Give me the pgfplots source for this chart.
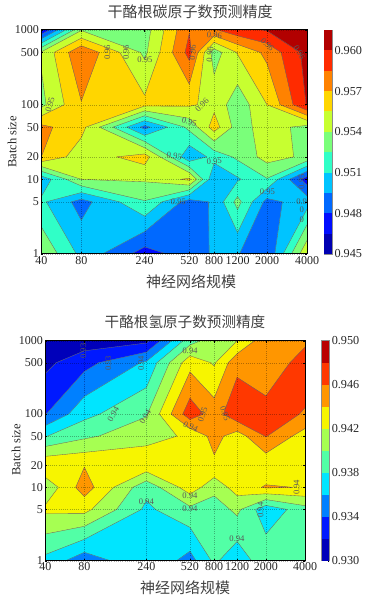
\documentclass[border=0pt]{standalone}
\usepackage{fontspec}
\usepackage{pgfplots}
\pgfplotsset{compat=1.18}
\setmainfont{Liberation Serif}
\newfontfamily\cjk{Noto Sans CJK SC}

% band colours (jet sampled at the band centres)
\definecolor{A0}{rgb}{0,0,.70}\definecolor{A1}{rgb}{0,.05,1}\definecolor{A2}{rgb}{0,.41,1}
\definecolor{A3}{rgb}{0,.77,1}\definecolor{A4}{rgb}{.19,1,.78}\definecolor{A5}{rgb}{.48,1,.48}
\definecolor{A6}{rgb}{.78,1,.19}\definecolor{A7}{rgb}{1,.84,0}\definecolor{A8}{rgb}{1,.51,0}
\definecolor{A9}{rgb}{1,.17,0}\definecolor{A10}{rgb}{.70,0,0}
\definecolor{B0}{rgb}{0,0,.73}\definecolor{B1}{rgb}{0,.1,1}\definecolor{B2}{rgb}{0,.5,1}
\definecolor{B3}{rgb}{0,.9,1}\definecolor{B4}{rgb}{.32,1,.65}\definecolor{B5}{rgb}{.65,1,.32}
\definecolor{B6}{rgb}{.97,.96,0}\definecolor{B7}{rgb}{1,.59,0}\definecolor{B8}{rgb}{1,.22,0}
\definecolor{B9}{rgb}{.73,0,0}

% values: one brace group per network size (40 ... 4000), batch size 1000,500,100,50,20,10,5,1
\def\gridA{%
{0.9465,0.9542,0.9536,0.9574,0.9570,0.9500,0.9513,0.9538},%
{0.9539,0.9583,0.9569,0.9560,0.9546,0.9540,0.9489,0.9506},%
{0.9533,0.9537,0.9559,0.9490,0.9562,0.9542,0.9524,0.9473},%
{0.9584,0.9590,0.9557,0.9529,0.9498,0.9558,0.9488,0.9487},%
{0.9583,0.9532,0.9551,0.9562,0.9515,0.9497,0.9497,0.9497},%
{0.9595,0.9556,0.9530,0.9533,0.9528,0.9508,0.9530,0.9496},%
{0.9601,0.9574,0.9555,0.9547,0.9546,0.9524,0.9490,0.9481},%
{0.9625,0.9605,0.9601,0.9535,0.9537,0.9472,0.9503,0.9553}}
\def\gridB{%
{0.9305,0.9315,0.9339,0.9379,0.9438,0.9405,0.9424,0.9374},%
{0.9309,0.9333,0.9374,0.9396,0.9439,0.9450,0.9426,0.9347},%
{0.9315,0.9363,0.9398,0.9413,0.9434,0.9386,0.9376,0.9378},%
{0.9392,0.9433,0.9472,0.9423,0.9435,0.9431,0.9395,0.9352},%
{0.9410,0.9418,0.9450,0.9447,0.9436,0.9407,0.9389,0.9384},%
{0.9420,0.9454,0.9475,0.9430,0.9436,0.9429,0.9405,0.9365},%
{0.9453,0.9449,0.9466,0.9461,0.9425,0.9442,0.9366,0.9395},%
{0.9457,0.9467,0.9459,0.9430,0.9432,0.9439,0.9392,0.9385}}

\def\vnum#1.#2\relax{\the\numexpr#2-9300\relax}
\newcommand\setgrid[2]{%
 \foreach \col [count=\i] in #2 {%
  \foreach \v [count=\j] in \col {%
   \expandafter\xdef\csname V#1-\i-\j\endcsname{\expandafter\vnum\v\relax}}}}
\setgrid{A}{\gridA}
\setgrid{B}{\gridB}
\foreach \a [count=\i] in {40,80,240,520,800,1200,2000,4000}{\expandafter\xdef\csname RX\i\endcsname{\a}}
\foreach \a [count=\i] in {1.60206,1.90309,2.38021,2.71600,2.90309,3.07918,3.30103,3.60206}{\expandafter\xdef\csname LX\i\endcsname{\a}}
\foreach \a [count=\i] in {1000,500,100,50,20,10,5,1}{\expandafter\xdef\csname RY\i\endcsname{\a}}
\foreach \a [count=\i] in {3,2.69897,2,1.69897,1.30103,1,0.69897,0}{\expandafter\xdef\csname LY\i\endcsname{\a}}

\newcommand\setc[4]{%
 \expandafter\let\csname v#1\expandafter\endcsname\csname V#2-#3-#4\endcsname
 \expandafter\let\csname lx#1\expandafter\endcsname\csname LX#3\endcsname
 \expandafter\let\csname ly#1\expandafter\endcsname\csname LY#4\endcsname
 \expandafter\let\csname rx#1\expandafter\endcsname\csname RX#3\endcsname
 \expandafter\let\csname ry#1\expandafter\endcsname\csname RY#4\endcsname}
\newcommand\setcell[3]{%
 \pgfmathtruncatemacro\ip{#2+1}\pgfmathtruncatemacro\jp{#3+1}%
 \setc{a}{#1}{#2}{#3}\setc{b}{#1}{\ip}{#3}\setc{c}{#1}{\ip}{\jp}\setc{d}{#1}{#2}{\jp}}
\newcommand\flags{%
 \edef\ha{\ifnum\va<\lev\space0\else1\fi}\edef\hb{\ifnum\vb<\lev\space0\else1\fi}%
 \edef\hc{\ifnum\vc<\lev\space0\else1\fi}\edef\hd{\ifnum\vd<\lev\space0\else1\fi}%
 \edef\hsum{\the\numexpr\ha+\hb+\hc+\hd\relax}%
 \edef\cen{\ifnum\numexpr\va+\vb+\vc+\vd\relax<\numexpr4*\lev\relax0\else1\fi}}
\newcommand\cross[2]{%
 \pgfmathsetmacro\tfrac{(\lev-\csname v#1\endcsname)/(\csname v#2\endcsname-\csname v#1\endcsname)}%
 \pgfmathsetmacro\cpx{10^(\csname lx#1\endcsname+\tfrac*(\csname lx#2\endcsname-\csname lx#1\endcsname))}%
 \pgfmathsetmacro\cpy{10^(\csname ly#1\endcsname+\tfrac*(\csname ly#2\endcsname-\csname ly#1\endcsname))}%
 \edef\cp{(\cpx,\cpy)}}
\newcommand\corner[1]{(\csname rx#1\endcsname,\csname ry#1\endcsname)}
\newcommand\edgeadd[2]{%
 \ifnum\csname h#1\endcsname=1 \edef\poly{\poly\corner{#1}}\fi
 \ifnum\csname h#1\endcsname=\csname h#2\endcsname\relax\else\cross{#1}{#2}\edef\poly{\poly\cp}\fi}
\newcommand\plotpoly[1]{\edef\tmp{\noexpand\addplot[forget plot,fill=\bcol,draw=\bcol,line width=0.25pt] coordinates {#1} --cycle;}\tmp}
% filled regions: each level paints v >= level in its band colour, in rising order
\newcommand\fillcell{%
 \flags
 \ifnum\hsum=0 \else
  \ifnum\va<\levn\space\def\go{1}\else\ifnum\vb<\levn\space\def\go{1}\else\ifnum\vc<\levn\space\def\go{1}\else\ifnum\vd<\levn\space\def\go{1}\else\def\go{0}\fi\fi\fi\fi
  \ifnum\go=1
   \def\saddle{0}%
   \ifnum\hsum=2 \ifnum\ha=\hc\relax\ifnum\cen=0 \def\saddle{1}\fi\fi\fi
   \ifnum\saddle=1
    \cross{a}{b}\let\pab\cp\cross{b}{c}\let\pbc\cp\cross{c}{d}\let\pcd\cp\cross{d}{a}\let\pda\cp
    \ifnum\ha=1
     \edef\poly{\corner{a}\pab\pda}\plotpoly{\poly}\edef\poly{\corner{c}\pbc\pcd}\plotpoly{\poly}%
    \else
     \edef\poly{\corner{b}\pab\pbc}\plotpoly{\poly}\edef\poly{\corner{d}\pcd\pda}\plotpoly{\poly}%
    \fi
   \else
    \def\poly{}\edgeadd{a}{b}\edgeadd{b}{c}\edgeadd{c}{d}\edgeadd{d}{a}\plotpoly{\poly}%
   \fi
  \fi
 \fi}
\newcommand\seg[2]{\edef\tmp{\noexpand\addplot[forget plot,black!60,line width=0.35pt] coordinates {#1 #2};}\tmp}
\newcommand\linecell{%
 \flags
 \ifnum\hsum=0 \else\ifnum\hsum=4 \else
  \ifnum\hsum=2 \ifnum\ha=\hc\relax\def\sad{1}\else\def\sad{0}\fi\else\def\sad{0}\fi
  \ifnum\sad=1
    \cross{a}{b}\let\pab\cp\cross{b}{c}\let\pbc\cp\cross{c}{d}\let\pcd\cp\cross{d}{a}\let\pda\cp
    \ifnum\ha=\cen\relax\seg{\pab}{\pbc}\seg{\pcd}{\pda}\else\seg{\pda}{\pab}\seg{\pbc}{\pcd}\fi
  \else
    \def\poly{}%
    \ifnum\ha=\hb\relax\else\cross{a}{b}\edef\poly{\poly\cp}\fi
    \ifnum\hb=\hc\relax\else\cross{b}{c}\edef\poly{\poly\cp}\fi
    \ifnum\hc=\hd\relax\else\cross{c}{d}\edef\poly{\poly\cp}\fi
    \ifnum\hd=\ha\relax\else\cross{d}{a}\edef\poly{\poly\cp}\fi
    \seg{\poly}{}%
  \fi
 \fi\fi}
\newcommand\contours[2]{% tag, level list
 \foreach \lev/\levn/\bcol in {#2}{\foreach \ci in {1,...,7}{\foreach \cj in {1,...,7}{\setcell{#1}{\ci}{\cj}\fillcell}}}%
 \foreach \lev/\levn/\bcol in {#2}{\foreach \ci in {1,...,7}{\foreach \cj in {1,...,7}{\setcell{#1}{\ci}{\cj}\linecell}}}}

\pgfplotsset{
 contourax/.style={
  scale only axis, axis on top,
  xmin=40,xmax=4000,ymin=1,ymax=1000,
  xtick={40,80,240,520,800,1200,2000,4000}, xticklabels={40,80,240,520,800,1200,2000,4000},
  ytick={1,5,10,20,50,100,500,1000}, yticklabels={1,5,10,20,50,100,500,1000},
  minor tick num=0,
  grid=major, grid style={black,opacity=0.3,line width=0.2pt,dash pattern=on 1pt off 1.2pt},
  axis line style={black,line width=1pt},
  tick style={black,line width=0.4pt}, major tick length=2pt, tick align=inside,
  tick label style={font=\fontsize{12}{14}\selectfont,text=black!85},
  xticklabel style={yshift=1.5pt}, yticklabel style={xshift=1pt}},
 cbar/.style={
  scale only axis, xmin=0,xmax=1, xtick=\empty, ytick pos=right, yticklabel pos=right,
  axis line style={black!45,line width=0.7pt}, tick style={black,line width=0.4pt},
  major tick length=1.5pt, tick align=inside, scaled y ticks=false,
  tick label style={font=\fontsize{12.2}{14}\selectfont,text=black!85}, yticklabel style={xshift=-1pt}}
}
\tikzset{lab/.style={font=\fontsize{8.6}{9}\selectfont,text=black!65,inner sep=0pt}}
\newcommand\lA[4]{\node[lab,rotate=#4] at (rel axis cs:{(#1-34)/797},{(686-#2)/671}) {#3};}
\newcommand\lB[4]{\node[lab,rotate=#4] at (rel axis cs:{(#1-46)/779},{(677-#2)/660}) {#3};}

\begin{document}
\begin{tikzpicture}[x=1pt,y=1pt]
\path[use as bounding box] (0,0) rectangle (375,600);
% ---------- upper chart
\begin{loglogaxis}[contourax,at={(41.3pt,346pt)},anchor=south west,width=265.7pt,height=224pt]
\contours{A}{150/165/A0,165/180/A1,180/195/A2,195/210/A3,210/225/A4,225/240/A5,240/255/A6,255/270/A7,270/285/A8,285/300/A9,300/99999/A10}
\lA{60}{238}{0.95}{75}\lA{232}{82}{0.96}{90}\lA{288}{82}{0.96}{90}\lA{345}{105}{0.95}{0}
\lA{488}{82}{0.96}{85}\lA{540}{88}{0.96}{85}\lA{553}{30}{0.96}{-5}\lA{712}{58}{0.96}{-45}
\lA{808}{82}{0.96}{-60}\lA{516}{240}{0.96}{45}\lA{478}{290}{0.95}{-15}\lA{433}{393}{0.95}{-8}
\lA{553}{408}{0.95}{3}\lA{712}{500}{0.95}{0}\lA{445}{530}{0.95}{-3}\lA{815}{470}{0.95}{90}
\lA{815}{528}{0.9}{0}\lA{815}{552}{0}{0}\lA{815}{583}{0}{0}
\end{loglogaxis}
\begin{axis}[cbar,at={(324pt,346pt)},anchor=south west,width=8pt,height=224pt,
  ymin=0.945,ymax=0.9615,ytick={0.945,0.948,0.951,0.954,0.957,0.960},
  yticklabels={0.945,0.948,0.951,0.954,0.957,0.960}]
\foreach \ya/\yb/\bcol in {0.945/0.9465/A0,0.9465/0.948/A1,0.948/0.9495/A2,0.9495/0.951/A3,0.951/0.9525/A4,0.9525/0.954/A5,0.954/0.9555/A6,0.9555/0.957/A7,0.957/0.9585/A8,0.9585/0.960/A9,0.960/0.9615/A10}{%
 \edef\tmp{\noexpand\addplot[forget plot,fill=\bcol,draw=none] coordinates {(0,\ya)(1,\ya)(1,\yb)(0,\yb)} --cycle;}\tmp}
\end{axis}
% ---------- lower chart
\begin{loglogaxis}[contourax,at={(45.3pt,39.3pt)},anchor=south west,width=259.7pt,height=220pt]
\contours{B}{0/20/B0,20/40/B1,40/60/B2,60/80/B3,80/100/B4,100/120/B5,120/140/B6,140/160/B7,160/180/B8,180/99999/B9}
\lB{160}{48}{0.93}{90}\lB{235}{85}{0.93}{90}\lB{333}{85}{0.94}{90}\lB{480}{48}{0.94}{-3}
\lB{250}{238}{0.94}{60}\lB{346}{245}{0.94}{60}\lB{518}{238}{0.95}{72}\lB{585}{235}{0.95}{-70}
\lB{482}{275}{0.94}{-25}\lB{480}{483}{0.94}{0}\lB{480}{522}{0.94}{0}\lB{349}{500}{0.94}{0}
\lB{692}{525}{0.94}{90}\lB{800}{457}{0.94}{90}\lB{621}{612}{0.94}{0}
\end{loglogaxis}
\begin{axis}[cbar,at={(321.7pt,39.3pt)},anchor=south west,width=7.6pt,height=220pt,
  ymin=0.930,ymax=0.950,ytick={0.930,0.934,0.938,0.942,0.946,0.950},
  yticklabels={0.930,0.934,0.938,0.942,0.946,0.950}]
\foreach \ya/\yb/\bcol in {0.930/0.932/B0,0.932/0.934/B1,0.934/0.936/B2,0.936/0.938/B3,0.938/0.940/B4,0.940/0.942/B5,0.942/0.944/B6,0.944/0.946/B7,0.946/0.948/B8,0.948/0.950/B9}{%
 \edef\tmp{\noexpand\addplot[forget plot,fill=\bcol,draw=none] coordinates {(0,\ya)(1,\ya)(1,\yb)(0,\yb)} --cycle;}\tmp}
\end{axis}
% ---------- titles and labels
\node[text=black!75] at (190,588) {\cjk\fontsize{15}{17}\selectfont 干酪根碳原子数预测精度};
\node[text=black!75] at (185,278) {\cjk\fontsize{14.6}{17}\selectfont 干酪根氢原子数预测精度};
\node[text=black!75] at (191,318) {\cjk\fontsize{15}{17}\selectfont 神经网络规模};
\node[text=black!75] at (185,12) {\cjk\fontsize{15}{17}\selectfont 神经网络规模};
\node[text=black!85,rotate=90] at (12,458) {\fontsize{12.5}{14}\selectfont Batch size};
\node[text=black!85,rotate=90] at (16,150) {\fontsize{12.5}{14}\selectfont Batch size};
\end{tikzpicture}
\end{document}
